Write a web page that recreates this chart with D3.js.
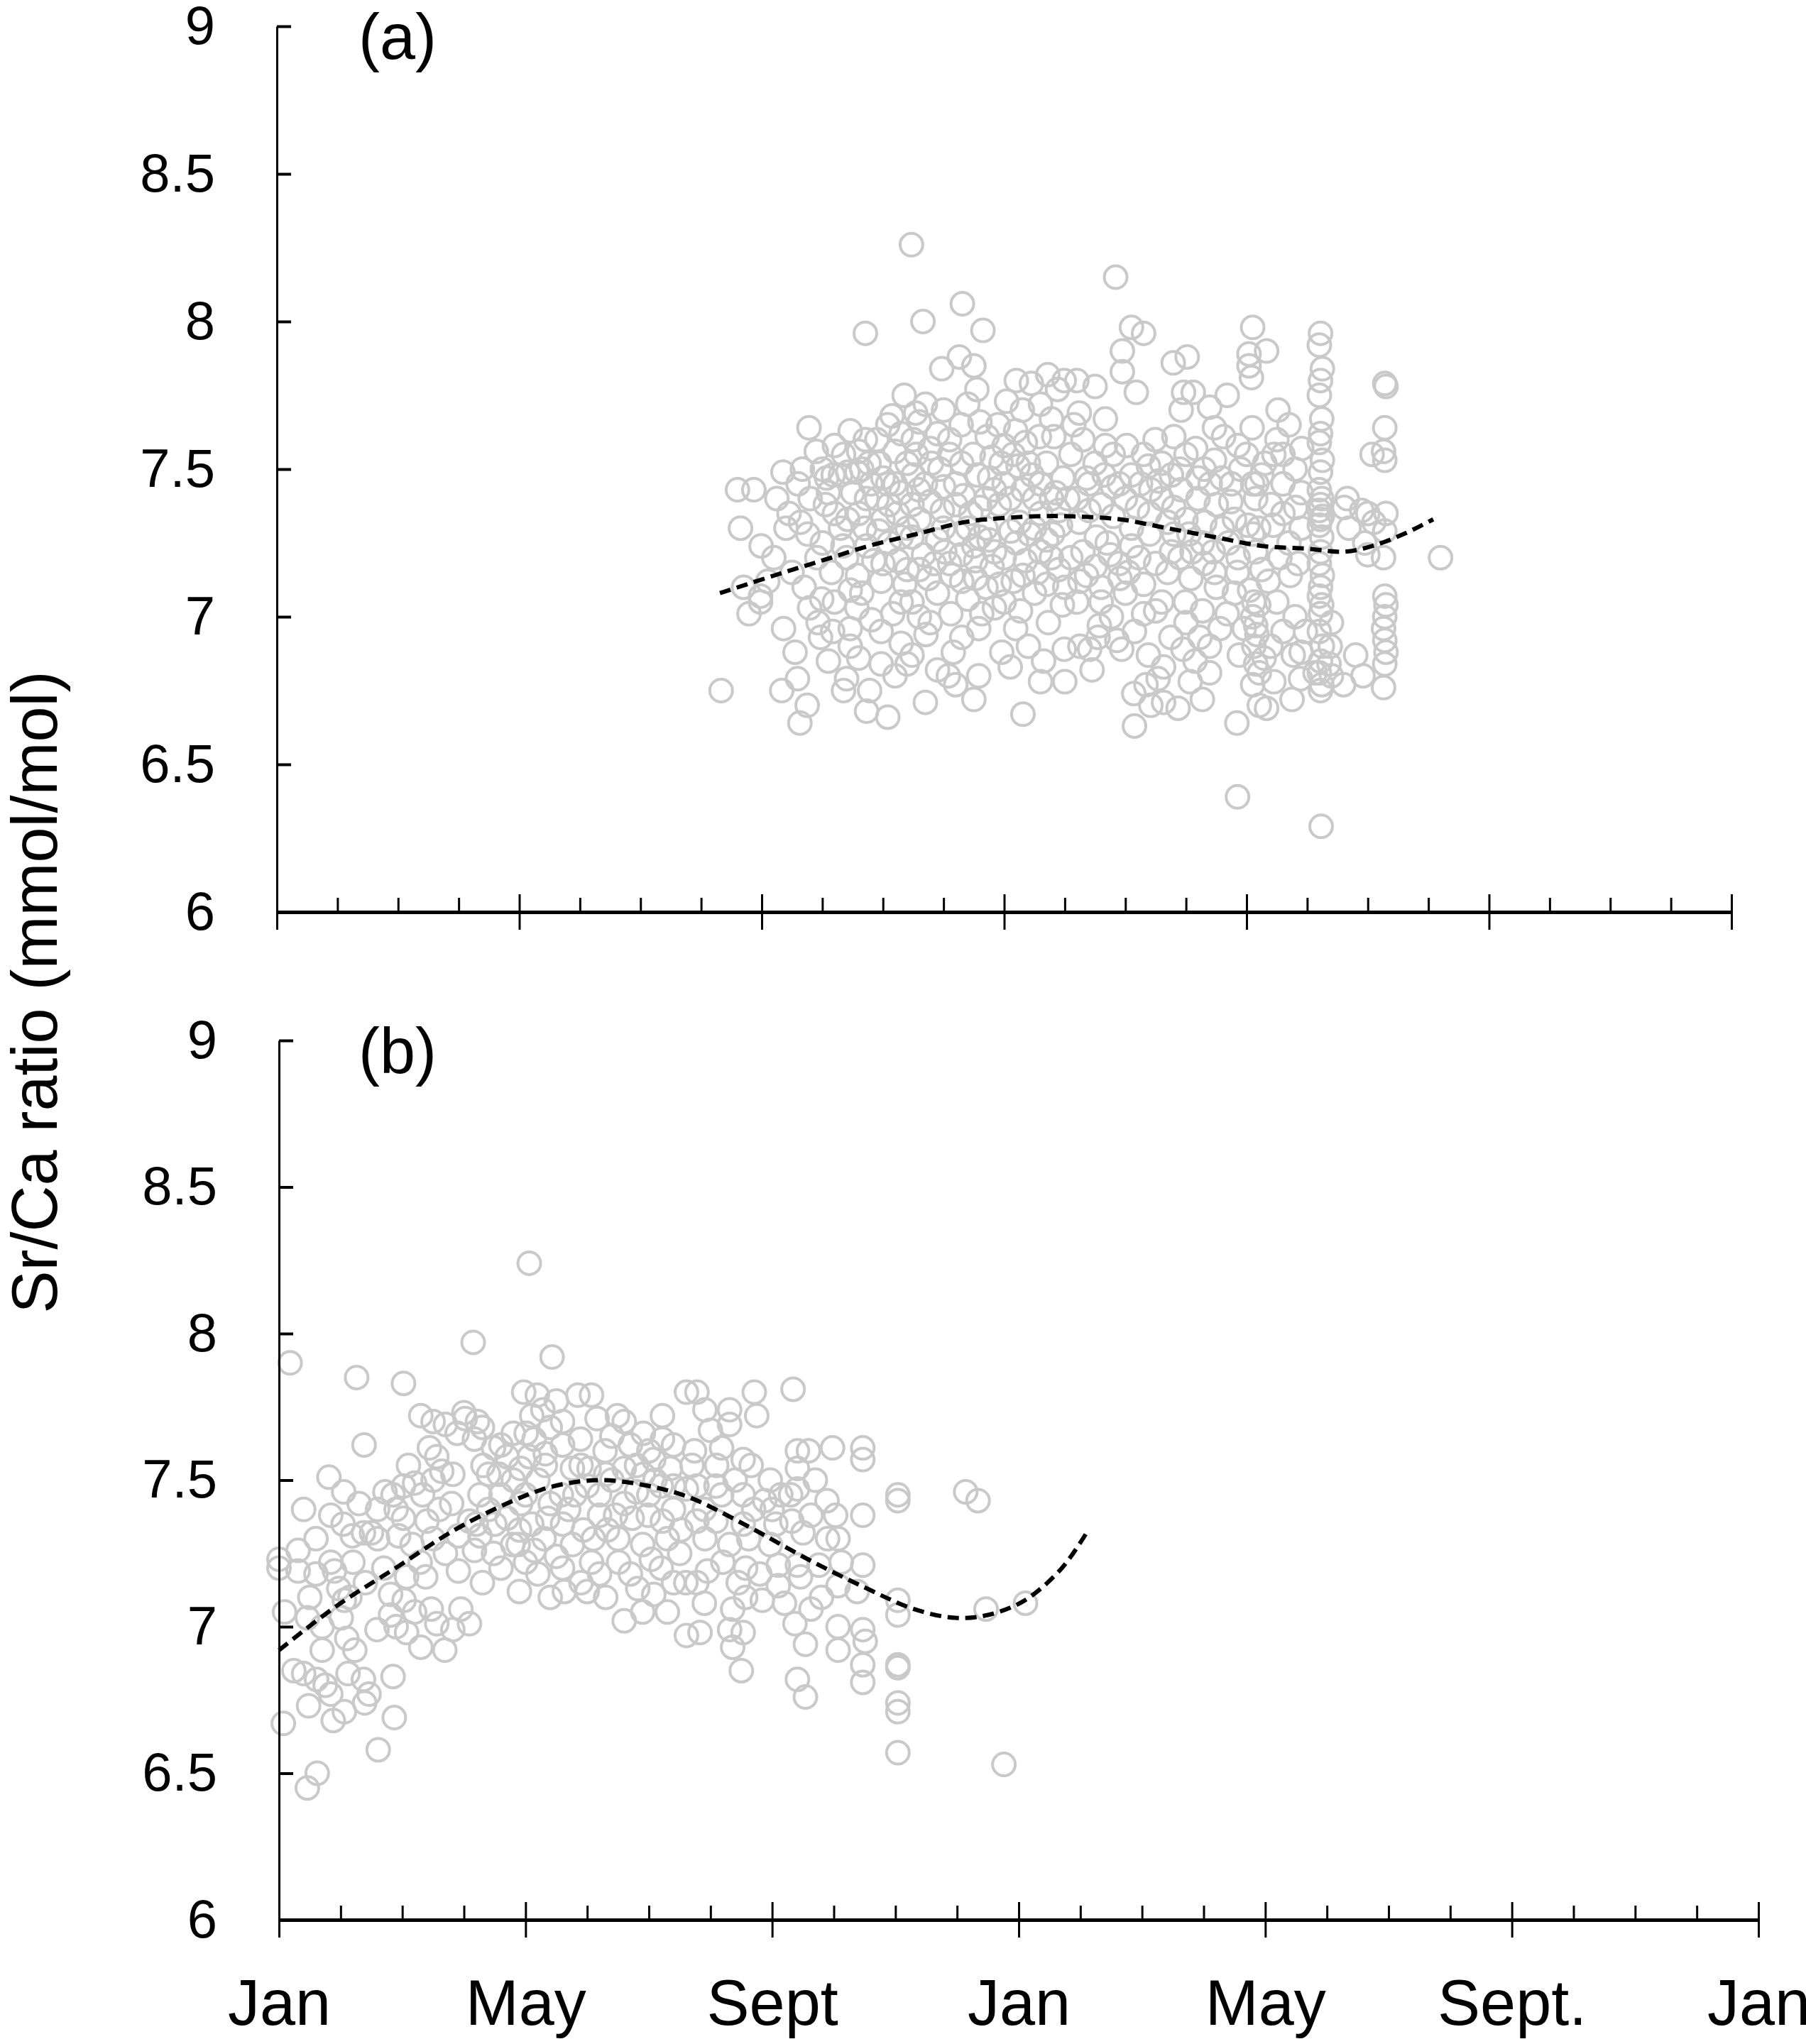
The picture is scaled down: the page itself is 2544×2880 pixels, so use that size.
<!DOCTYPE html>
<html>
<head>
<meta charset="utf-8">
<script src="https://cdnjs.cloudflare.com/ajax/libs/d3/7.8.5/d3.min.js"></script>
<style>
body { margin: 0; background: #fff; }
</style>
</head>
<body>
<div id="chart"></div>
<script>
// month index: 0 = Jan of first year, 24 = Jan two years later
var majorMonths = [0, 4, 8, 12, 16, 20, 24];
var monthLabels = ["Jan", "May", "Sept", "Jan", "May", "Sept.", "Jan"];
var yTicks = [6, 6.5, 7, 7.5, 8, 8.5, 9];

// panel (a) samples: [month, Sr/Ca]
var pointsA = [
  [10.47,8.26],[11.31,8.06],[10.66,8.00],[9.71,7.96],[11.65,7.97],[11.26,7.88],[10.97,7.84],[11.5,7.85],[10.35,7.75],[10.54,7.69],
  [10.08,7.65],[8.78,7.64],[9.46,7.63],[9.71,7.60],[8.9,7.56],[8.35,7.49],[8.67,7.50],[7.6,7.43],[7.87,7.43],[8.25,7.40],
  [7.65,7.30],[7.99,7.24],[12.04,7.73],[12.45,7.79],[12.72,7.82],[12.88,7.77],[12.99,7.80],[12.78,7.67],
  [9.07,7.47],[9.18,7.48],[9.3,7.48],[9.42,7.49],[9.57,7.49],[9.77,7.52],[9.94,7.52],[10.0,7.47],[10.08,7.45],
  [9.73,7.40],[9.05,7.38],[9.2,7.35],[9.42,7.33],[8.64,7.32],[8.76,7.28],[8.91,7.20],[9.15,7.15],[9.34,7.24],[9.73,7.24],
  [9.93,7.29],[10.24,7.35],[10.4,7.52],[10.55,7.55],[10.78,7.57],[10.9,7.62],[10.94,7.50],[11.1,7.55],[11.29,7.65],[11.6,7.66],
  [11.72,7.61],[11.49,7.55],[11.56,7.48],[11.76,7.47],[11.84,7.43],[10.59,7.43],[10.48,7.38],[10.78,7.39],[10.98,7.36],[11.33,7.41],
  [11.6,7.37],[11.92,7.38],[12.19,7.63],[12.35,7.59],[12.58,7.61],[12.82,7.61],[12.23,7.51],[12.46,7.48],[12.7,7.52],[12.97,7.47],
  [12.31,7.43],[12.5,7.40],[12.78,7.40],[13.05,7.40],[12.11,7.29],[12.42,7.28],[12.7,7.26],[12.93,7.31],[11.6,7.27],[11.29,7.21],
  [11.53,7.19],[11.84,7.22],[12.35,7.19],[12.78,7.20],[10.48,7.27],[10.67,7.21],[11.02,7.22],[10.24,7.19],[9.85,7.19],[9.58,7.14],
  [9.97,7.12],[10.36,7.11],[10.75,7.13],[11.14,7.14],[11.53,7.13],[11.92,7.11],[12.31,7.14],[12.7,7.11],[7.98,7.07],[9.46,7.09],
  [7.33,6.75],[8.33,6.75],[8.59,6.79],[8.75,6.70],[8.63,6.64],[9.35,6.75],[9.4,6.79],[9.78,6.75],[9.73,6.68],[10.08,6.66],
  [10.7,6.71],[9.97,6.84],[10.4,6.84],[11.16,6.88],[11.08,6.80],[11.2,6.77],[11.58,6.80],[11.5,6.72],[11.96,6.88],[12.31,6.67],
  [12.99,6.89],[12.73,6.98],[12.19,6.96],[11.58,6.96],[11.63,7.01],[11.84,7.03],[12.27,7.02],[12.96,7.04],[11.12,7.01],[10.71,6.94],
  [10.48,6.87],[10.3,6.91],[9.97,6.95],[9.81,6.99],[9.46,6.90],[9.46,6.96],[9.17,6.95],[8.97,6.93],[8.93,6.98],[8.79,7.03],
  [8.36,6.96],[7.79,7.01],[7.98,7.05],[8.99,7.06],[9.57,7.03],[10.16,7.01],[10.48,7.05],[10.78,6.98],
  [13.84,8.15],[14.1,7.98],[14.3,7.96],[13.95,7.90],[13.95,7.83],[14.18,7.76],[13.5,7.78],[13.2,7.80],[13.24,7.69],[13.67,7.67],
  [14.79,7.86],[15.02,7.88],[14.96,7.76],[15.12,7.76],[15.68,7.75],[16.1,7.98],[16.04,7.89],[16.33,7.90],[16.04,7.85],[16.08,7.81],
  [16.52,7.70],[14.92,7.70],[15.39,7.71],[15.47,7.64],[16.09,7.64],[13.67,7.58],[14.02,7.58],[14.49,7.60],[14.8,7.61],[15.16,7.57],
  [15.62,7.61],[15.86,7.58],[16.45,7.55],[16.91,7.57],[14.38,7.51],[14.76,7.48],[15.47,7.53],[15.59,7.47],[16.25,7.48],[16.17,7.45],
  [13.79,7.44],[13.36,7.47],[14.42,7.43],[14.92,7.43],[15.74,7.39],[16.81,7.37],[17.61,7.37],[16.44,7.31],[16.02,7.31],[15.31,7.32],
  [14.8,7.28],[14.1,7.30],[13.52,7.27],[13.24,7.32],[13.75,7.21],[14.22,7.20],[14.76,7.22],[15.27,7.25],[15.86,7.20],[16.25,7.16],
  [16.72,7.14],[18.0,7.21],[13.36,7.14],[13.91,7.13],[14.3,7.11],[15.08,7.13],[15.47,7.15],[16.05,7.09],[16.36,7.12],[17.69,7.30],
  [13.45,6.82],[13.25,6.90],[13.41,6.89],[13.57,6.97],[13.77,7.00],[13.94,6.89],[13.86,6.92],[14.38,6.87],[14.63,6.83],[14.54,6.79],
  [14.34,6.77],[14.14,6.74],[14.42,6.70],[14.63,6.71],[14.87,6.69],[14.15,6.63],[14.3,7.01],[14.5,7.02],[14.99,7.05],[15.27,7.02],
  [15.68,7.01],[14.95,6.89],[15.07,6.78],[15.27,6.72],[15.39,6.81],[15.23,6.93],[15.39,6.90],[15.56,6.96],[15.96,6.96],[15.88,6.87],
  [16.17,6.94],[16.29,6.86],[16.21,6.81],[16.33,6.69],[16.21,6.70],[15.84,6.64],[16.2,7.04],[16.97,6.95],[16.77,6.87],[16.89,6.79],
  [17.13,6.81],[15.85,6.39],
  [17.22,7.96],[17.2,7.92],[17.25,7.84],[17.22,7.80],[17.2,7.75],[17.24,7.67],[17.22,7.62],[17.2,7.59],[17.25,7.53],[17.22,7.49],
  [17.2,7.43],[17.24,7.40],[17.22,7.38],[17.2,7.36],[17.25,7.34],[17.22,7.33],[17.2,7.31],[17.24,7.27],[17.22,7.22],[17.2,7.18],
  [17.25,7.14],[17.22,7.10],[17.2,7.07],[17.24,7.04],[17.22,7.01],[17.2,6.95],[17.25,6.90],[17.22,6.85],[17.2,6.81],[17.24,6.77],
  [17.22,6.75],[17.23,6.29],
  [18.28,7.79],[18.3,7.78],[18.28,7.64],[18.26,7.56],[18.28,7.53],[18.3,7.35],[18.28,7.29],[18.26,7.20],[18.28,7.07],[18.3,7.04],
  [18.28,7.00],[18.26,6.96],[18.28,6.92],[18.3,6.88],[18.28,6.84],[18.26,6.76],[19.2,7.20],[18.07,7.55],
  [17.66,7.40],[17.9,7.36],[17.92,6.80],[17.6,6.77],[17.8,6.87],[17.4,6.98],[17.38,6.90],[17.36,6.84],[17.4,6.80],
  [18.0,7.35],[18.1,7.32],[17.95,7.25],
  [16.1,7.45],[16.15,7.40],[16.1,7.28],[16.15,7.22],[16.12,7.05],[16.1,7.00],[16.15,6.97],[16.12,6.90],[16.15,6.84],[16.1,6.77],
  [13.2,7.40],[13.4,7.36],[13.6,7.38],[13.8,7.34],[14.0,7.40],[14.2,7.37],[14.4,7.35],[14.6,7.40],[14.8,7.37],[15.0,7.33],
  [15.2,7.40],[15.4,7.45],[15.6,7.30],[15.8,7.33],[13.1,7.20],[13.3,7.22],[13.5,7.17],[13.7,7.25],[13.9,7.18],[14.1,7.24],
  [14.5,7.18],[14.7,7.15],[14.9,7.20],[15.1,7.22],[15.3,7.18],[15.5,7.10],[15.7,7.25],[16.4,7.38],[16.6,7.35],[16.7,7.25],
  [16.9,7.30],[16.6,7.45],[16.8,7.50],[16.5,7.60],[16.7,7.65],[16.9,7.42],[13.1,7.55],[13.3,7.60],[13.5,7.52],[13.8,7.55],
  [14.1,7.48],[14.3,7.55],[14.6,7.52],[15.0,7.55],[15.3,7.50],[15.9,7.50],[13.0,7.10],[13.2,7.05],[13.6,7.05],[14.0,7.08],
  [14.6,7.05],[15.0,6.98],[15.8,7.08],[16.5,7.05],[16.6,6.95],[16.8,7.00],[16.4,6.90],[16.9,6.88],
  [9.0,7.25],[9.3,7.30],[9.6,7.35],[9.9,7.40],[10.2,7.45],[10.4,7.30],[10.7,7.45],[11.0,7.30],[11.2,7.45],[11.4,7.30],
  [11.7,7.30],[12.0,7.45],[12.1,7.40],[12.6,7.35],[12.9,7.36],[10.1,7.25],[10.6,7.16],[11.1,7.18],[11.8,7.17],[12.2,7.25],
  [12.6,7.22],[10.3,7.05],[10.9,7.08],[11.4,7.06],[12.0,7.05],[12.5,7.08],[8.5,7.15],[8.7,7.10],[8.2,7.20],[8.45,7.35],
  [8.6,7.45],[9.2,7.58],[9.9,7.60],[10.3,7.62],[10.6,7.66],[11.0,7.70],[11.4,7.72],[11.9,7.65],[12.3,7.70],[12.6,7.72],
  [11.8,7.54],[12.0,7.58],[11.3,7.52],[10.2,7.56],[9.6,7.56],[9.0,7.50],[8.4,7.30],[8.1,7.12],[7.7,7.10],[8.55,6.88],
  [9.1,6.85],[9.6,6.86],[10.2,6.80],[10.9,6.82],[12.4,6.90],[12.6,6.78],[13.0,6.78],
  [9.5,7.42],[9.8,7.45],[10.1,7.38],[10.3,7.42],[10.5,7.48],[10.8,7.52],[11.0,7.44],[11.2,7.38],[11.45,7.35],[11.7,7.40],
  [11.95,7.52],[12.15,7.55],[12.4,7.52],[12.6,7.45],[12.85,7.42],[10.0,7.33],[10.3,7.27],[10.6,7.33],[10.9,7.26],[11.25,7.28],
  [11.5,7.24],[11.75,7.26],[12.0,7.20],[12.25,7.32],[12.5,7.30],[12.8,7.28],[9.4,7.20],[9.7,7.30],[10.0,7.18],[10.4,7.16],
  [10.85,7.18],[11.3,7.12],[11.7,7.10],[12.15,7.12],[12.55,7.15],[12.9,7.16],[8.8,7.40],[9.1,7.42],[9.35,7.55],[9.65,7.50],
  [10.15,7.68],[10.5,7.60],[10.7,7.72],[11.55,7.77],[11.1,7.60],[12.2,7.80],[13.15,7.65],[13.4,7.45],[13.65,7.48],[13.9,7.45],
  [14.25,7.45],[14.55,7.46],[14.9,7.50],[15.2,7.47],[15.5,7.38],[15.75,7.45],[16.0,7.55],[16.3,7.52],[16.6,7.55],[13.25,7.12],
  [13.6,7.10],[14.05,7.15],[14.4,7.28],[14.7,7.32],[15.05,7.28],[15.45,7.22],[15.85,7.15],[16.2,7.30],[16.55,7.20],[16.85,7.18],
  [13.55,6.93],[14.15,6.95],[14.75,6.93],[15.15,6.85],[16.45,6.78],[16.75,6.72],[9.2,7.05],[9.65,7.08],[10.6,7.00],[11.3,6.93],
  [12.1,6.83],[12.65,6.85]
];

// panel (a) fitted trend
var trendA = [
  [7.31,7.08],[8.21,7.14],[8.99,7.19],[9.77,7.24],[10.55,7.28],[11.33,7.32],[11.72,7.33],[12.5,7.34],[13.13,7.34],
  [13.91,7.33],[14.69,7.30],[15.47,7.27],[16.25,7.24],[17.03,7.23],[17.61,7.22],[18.08,7.24],[18.59,7.28],[19.08,7.33]
];

// panel (b) samples: [month, Sr/Ca]
var pointsB = [
  [4.06,8.24],[3.15,7.97],[4.43,7.92],[0.18,7.90],[1.26,7.85],[2.02,7.83],[1.38,7.62],[2.44,7.61],[0.81,7.51],[1.05,7.46],
  [0.84,7.38],[1.04,7.35],[1.19,7.31],[1.37,7.32],[1.5,7.32],[0.0,7.23],[0.0,7.20],[0.31,7.26],[0.31,7.19],[0.84,7.22],
  [0.9,7.19],[0.09,7.05],[0.46,7.03],[1.06,7.09],[1.01,7.03],[1.15,7.10],[0.97,7.13],[1.23,6.92],[0.24,6.85],[0.4,6.84],
  [0.61,6.82],[0.75,6.80],[0.84,6.77],[1.37,6.82],[1.46,6.77],[1.39,6.74],[1.85,6.83],[0.48,6.73],[0.88,6.68],[1.06,6.71],
  [1.87,6.69],[0.07,6.67],[1.61,6.58],[0.62,6.50],[0.46,6.45],[1.12,6.84],[1.72,7.46],[1.85,7.45],[2.02,7.48],[2.2,7.49],
  [2.33,7.45],[2.02,7.37],[1.94,7.31],[2.16,7.28],[2.29,7.22],[2.07,7.17],[2.38,7.17],[1.81,7.11],[2.03,7.09],[2.2,7.05],
  [2.47,7.06],[1.81,7.04],[1.59,6.99],[2.07,6.98],[2.56,7.01],[2.82,6.99],[3.09,7.01],[2.95,7.06],[2.69,6.92],[2.91,7.19],
  [2.64,7.53],[2.82,7.52],[2.56,7.58],[2.89,7.66],[3.02,7.71],[3.22,7.70],[3.17,7.64],[3.48,7.61],[3.7,7.58],[3.31,7.55],
  [3.57,7.52],[3.92,7.54],[3.26,7.45],[3.09,7.36],[2.91,7.31],[3.26,7.31],[3.48,7.25],[3.17,7.26],[3.79,7.28],[3.7,7.37],
  [3.92,7.42],[4.1,7.35],[4.14,7.26],[4.5,7.24],[4.36,7.37],[4.58,7.45],[3.97,7.80],[4.19,7.79],[4.5,7.77],[4.28,7.74],
  [4.01,7.66],[4.14,7.64],[4.32,7.59],[4.32,7.55],[4.06,7.58],[4.85,7.79],[5.07,7.79],[5.16,7.71],[5.49,7.72],[4.89,7.64],
  [5.29,7.60],[4.76,7.54],[5.03,7.54],[5.6,7.54],[5.91,7.66],[6.22,7.72],[6.22,7.64],[6.08,7.57],[6.35,7.54],[5.91,7.52],
  [5.2,7.38],[5.33,7.33],[5.46,7.38],[5.73,7.37],[5.99,7.38],[6.22,7.36],[4.94,7.33],[4.76,7.28],[5.07,7.22],[5.51,7.22],
  [6.04,7.23],[4.63,7.12],[5.0,7.12],[5.82,7.13],[6.08,7.11],[6.3,7.05],[6.61,6.97],[6.52,7.33],[6.61,7.47],[6.61,7.80],
  [3.88,7.28],
  [3.4,7.40],[3.6,7.45],[3.8,7.50],[4.0,7.45],[4.2,7.50],[4.4,7.42],[4.6,7.35],[4.8,7.45],[5.0,7.48],[5.2,7.45],
  [5.4,7.50],[5.6,7.42],[5.8,7.46],[6.0,7.45],[6.2,7.48],[6.4,7.40],[3.5,7.35],[3.9,7.33],[4.3,7.30],[4.7,7.40],
  [5.1,7.30],[5.5,7.30],[5.9,7.28],[6.3,7.30],[6.5,7.25],[4.4,7.68],[4.6,7.62],[5.4,7.65],[5.7,7.62],[6.0,7.60],
  [6.4,7.62],[3.3,7.15],[3.6,7.20],[4.2,7.18],[4.9,7.15],[5.3,7.10],[6.4,7.15],[1.6,7.30],[1.7,7.20],[1.4,7.15],
  [1.2,7.22],[0.6,7.18],[0.5,7.10],[2.5,7.30],[2.6,7.40],[2.4,7.36],[2.7,7.25],[1.9,7.00],[0.7,7.00],[2.3,6.93],
  [8.34,7.81],[7.71,7.80],[7.75,7.72],[6.78,7.80],[6.91,7.74],[7.31,7.74],[7.31,7.69],[7.0,7.67],[7.18,7.61],[6.74,7.60],
  [7.53,7.57],[7.66,7.55],[8.41,7.60],[8.59,7.60],[8.98,7.61],[9.47,7.61],[9.47,7.57],[8.41,7.54],[8.41,7.47],[7.97,7.50],
  [8.14,7.45],[7.09,7.48],[6.78,7.48],[7.18,7.45],[7.53,7.45],[7.88,7.43],[8.89,7.43],[9.03,7.38],[9.47,7.38],[8.63,7.38],
  [10.04,7.45],[10.04,7.43],[11.14,7.46],[11.34,7.43],[8.32,7.36],[8.06,7.35],[7.53,7.35],[7.09,7.36],[6.78,7.36],[6.91,7.30],
  [7.31,7.28],[7.62,7.30],[7.97,7.28],[8.5,7.32],[9.07,7.30],[8.76,7.21],[9.12,7.22],[9.47,7.21],[8.41,7.21],[8.46,7.17],
  [8.1,7.21],[7.57,7.20],[6.95,7.19],[6.78,7.15],[8.1,7.14],[9.07,7.14],[9.38,7.12],[7.57,7.10],[7.84,7.09],[7.36,7.06],
  [8.63,7.06],[10.04,7.09],[10.04,7.04],[11.47,7.06],[12.11,7.08],[6.83,6.98],[7.31,6.99],[7.53,6.98],[7.36,6.93],[7.5,6.85],
  [8.37,7.01],[8.54,6.94],[9.07,7.00],[9.07,6.92],[9.47,6.99],[9.51,6.95],[9.47,6.87],[9.47,6.81],[8.41,6.82],[8.54,6.76],
  [10.04,6.87],[10.04,6.86],[10.04,6.74],[10.04,6.71],[10.04,6.57],[11.76,6.53],
  [2.3,7.72],[2.5,7.70],[2.7,7.69],[3.0,7.73],[3.3,7.68],[3.4,7.52],[3.6,7.62],[3.8,7.66],[4.1,7.72],[4.6,7.70],
  [4.9,7.55],[5.3,7.52],[5.6,7.70],[5.8,7.55],[6.1,7.50],[6.4,7.48],[6.7,7.55],[6.9,7.40],[7.1,7.55],[7.4,7.50],
  [7.7,7.40],[8.0,7.40],[8.3,7.45],[8.7,7.50],[8.9,7.30],[7.2,7.22],[7.45,7.15],[7.8,7.18],[8.2,7.08],[8.8,7.10],
  [6.9,7.08],[6.6,7.15],[6.2,7.20],[5.7,7.18],[5.2,7.18],[4.6,7.20],[4.0,7.22],[3.2,7.35],[2.8,7.42],[2.5,7.50],
  [2.1,7.55],[1.9,7.40],[1.6,7.40],[1.3,7.42],[0.6,7.30],[0.4,7.40],[1.1,6.96],[0.7,6.92],[5.9,7.05],[5.6,7.02],
  [4.4,7.10],[3.9,7.12]
];

// panel (b) fitted trend
var trendB = [
  [0,6.92],[0.93,7.07],[1.89,7.20],[2.85,7.33],[3.8,7.43],[4.47,7.48],[5.23,7.50],[6.0,7.48],[6.67,7.44],
  [7.63,7.34],[8.58,7.23],[9.54,7.13],[10.3,7.06],[10.97,7.03],[11.5,7.04],[12.1,7.09],[12.7,7.20],[13.1,7.32]
];

var width = 2544, height = 2880;
var font = "'Liberation Sans', Arial, Helvetica, sans-serif";

var svg = d3.select("#chart")
    .append("svg")
    .attr("width", width)
    .attr("height", height);

svg.append("rect")
    .attr("width", width)
    .attr("height", height)
    .attr("fill", "#fff");

var panels = [
    { label: "(a)", points: pointsA, trend: trendA, left: 390, right: 2439, top: 37, bottom: 1285, labels: false },
    { label: "(b)", points: pointsB, trend: trendB, left: 393, right: 2477, top: 1466, bottom: 2705, labels: true }
];

panels.forEach(function (p) {
    var x = d3.scaleLinear().domain([0, 24]).range([p.left, p.right]);
    var y = d3.scaleLinear().domain([6, 9]).range([p.bottom, p.top]);
    var g = svg.append("g");

    g.selectAll("circle")
        .data(p.points)
        .enter().append("circle")
        .attr("cx", function (d) { return x(d[0]); })
        .attr("cy", function (d) { return y(d[1]); })
        .attr("r", 16)
        .attr("fill", "none")
        .attr("stroke", "#c9c9c9")
        .attr("stroke-width", 4);

    var line = d3.line()
        .x(function (d) { return x(d[0]); })
        .y(function (d) { return y(d[1]); })
        .curve(d3.curveCatmullRom);

    g.append("path")
        .datum(p.trend)
        .attr("fill", "none")
        .attr("stroke", "#000")
        .attr("stroke-width", 6)
        .attr("stroke-dasharray", "16,9")
        .attr("d", line);

    // minor (monthly) ticks, pointing up
    var minor = g.append("g")
        .attr("transform", "translate(0," + p.bottom + ")")
        .call(d3.axisBottom(x)
            .tickValues(d3.range(0, 25).filter(function (m) { return m % 4 !== 0; }))
            .tickSize(-20)
            .tickFormat(""));
    minor.select(".domain").remove();
    minor.selectAll(".tick line").attr("stroke-width", 3);

    // major ticks cross the axis
    var major = g.append("g")
        .attr("transform", "translate(0," + p.bottom + ")")
        .call(d3.axisBottom(x)
            .tickValues(majorMonths)
            .tickSizeInner(25)
            .tickSizeOuter(0)
            .tickPadding(59)
            .tickFormat(function (d, i) { return p.labels ? monthLabels[i] : ""; }));
    major.select(".domain").attr("stroke-width", 5);
    major.selectAll(".tick line").attr("y1", -25).attr("stroke-width", 3);
    major.attr("font-family", font).attr("font-size", 90);
    major.selectAll("text").attr("fill", "#000");

    var yAxis = g.append("g")
        .attr("transform", "translate(" + p.left + ",0)")
        .call(d3.axisLeft(y)
            .tickValues(yTicks)
            .tickSizeInner(-20)
            .tickSizeOuter(0)
            .tickPadding(87)
            .tickFormat(d3.format("")));
    yAxis.select(".domain").attr("stroke-width", 3);
    yAxis.selectAll(".tick line").attr("stroke-width", 4);
    yAxis.attr("font-family", font).attr("font-size", 76);
    yAxis.selectAll("text").attr("fill", "#000");

    g.append("text")
        .attr("x", 505)
        .attr("y", p.top + 46)
        .attr("font-family", font)
        .attr("font-size", 90)
        .text(p.label);
});

svg.append("text")
    .attr("transform", "translate(80,1398) rotate(-90)")
    .attr("text-anchor", "middle")
    .attr("font-family", font)
    .attr("font-size", 90)
    .text("Sr/Ca ratio (mmol/mol)");
</script>
</body>
</html>
